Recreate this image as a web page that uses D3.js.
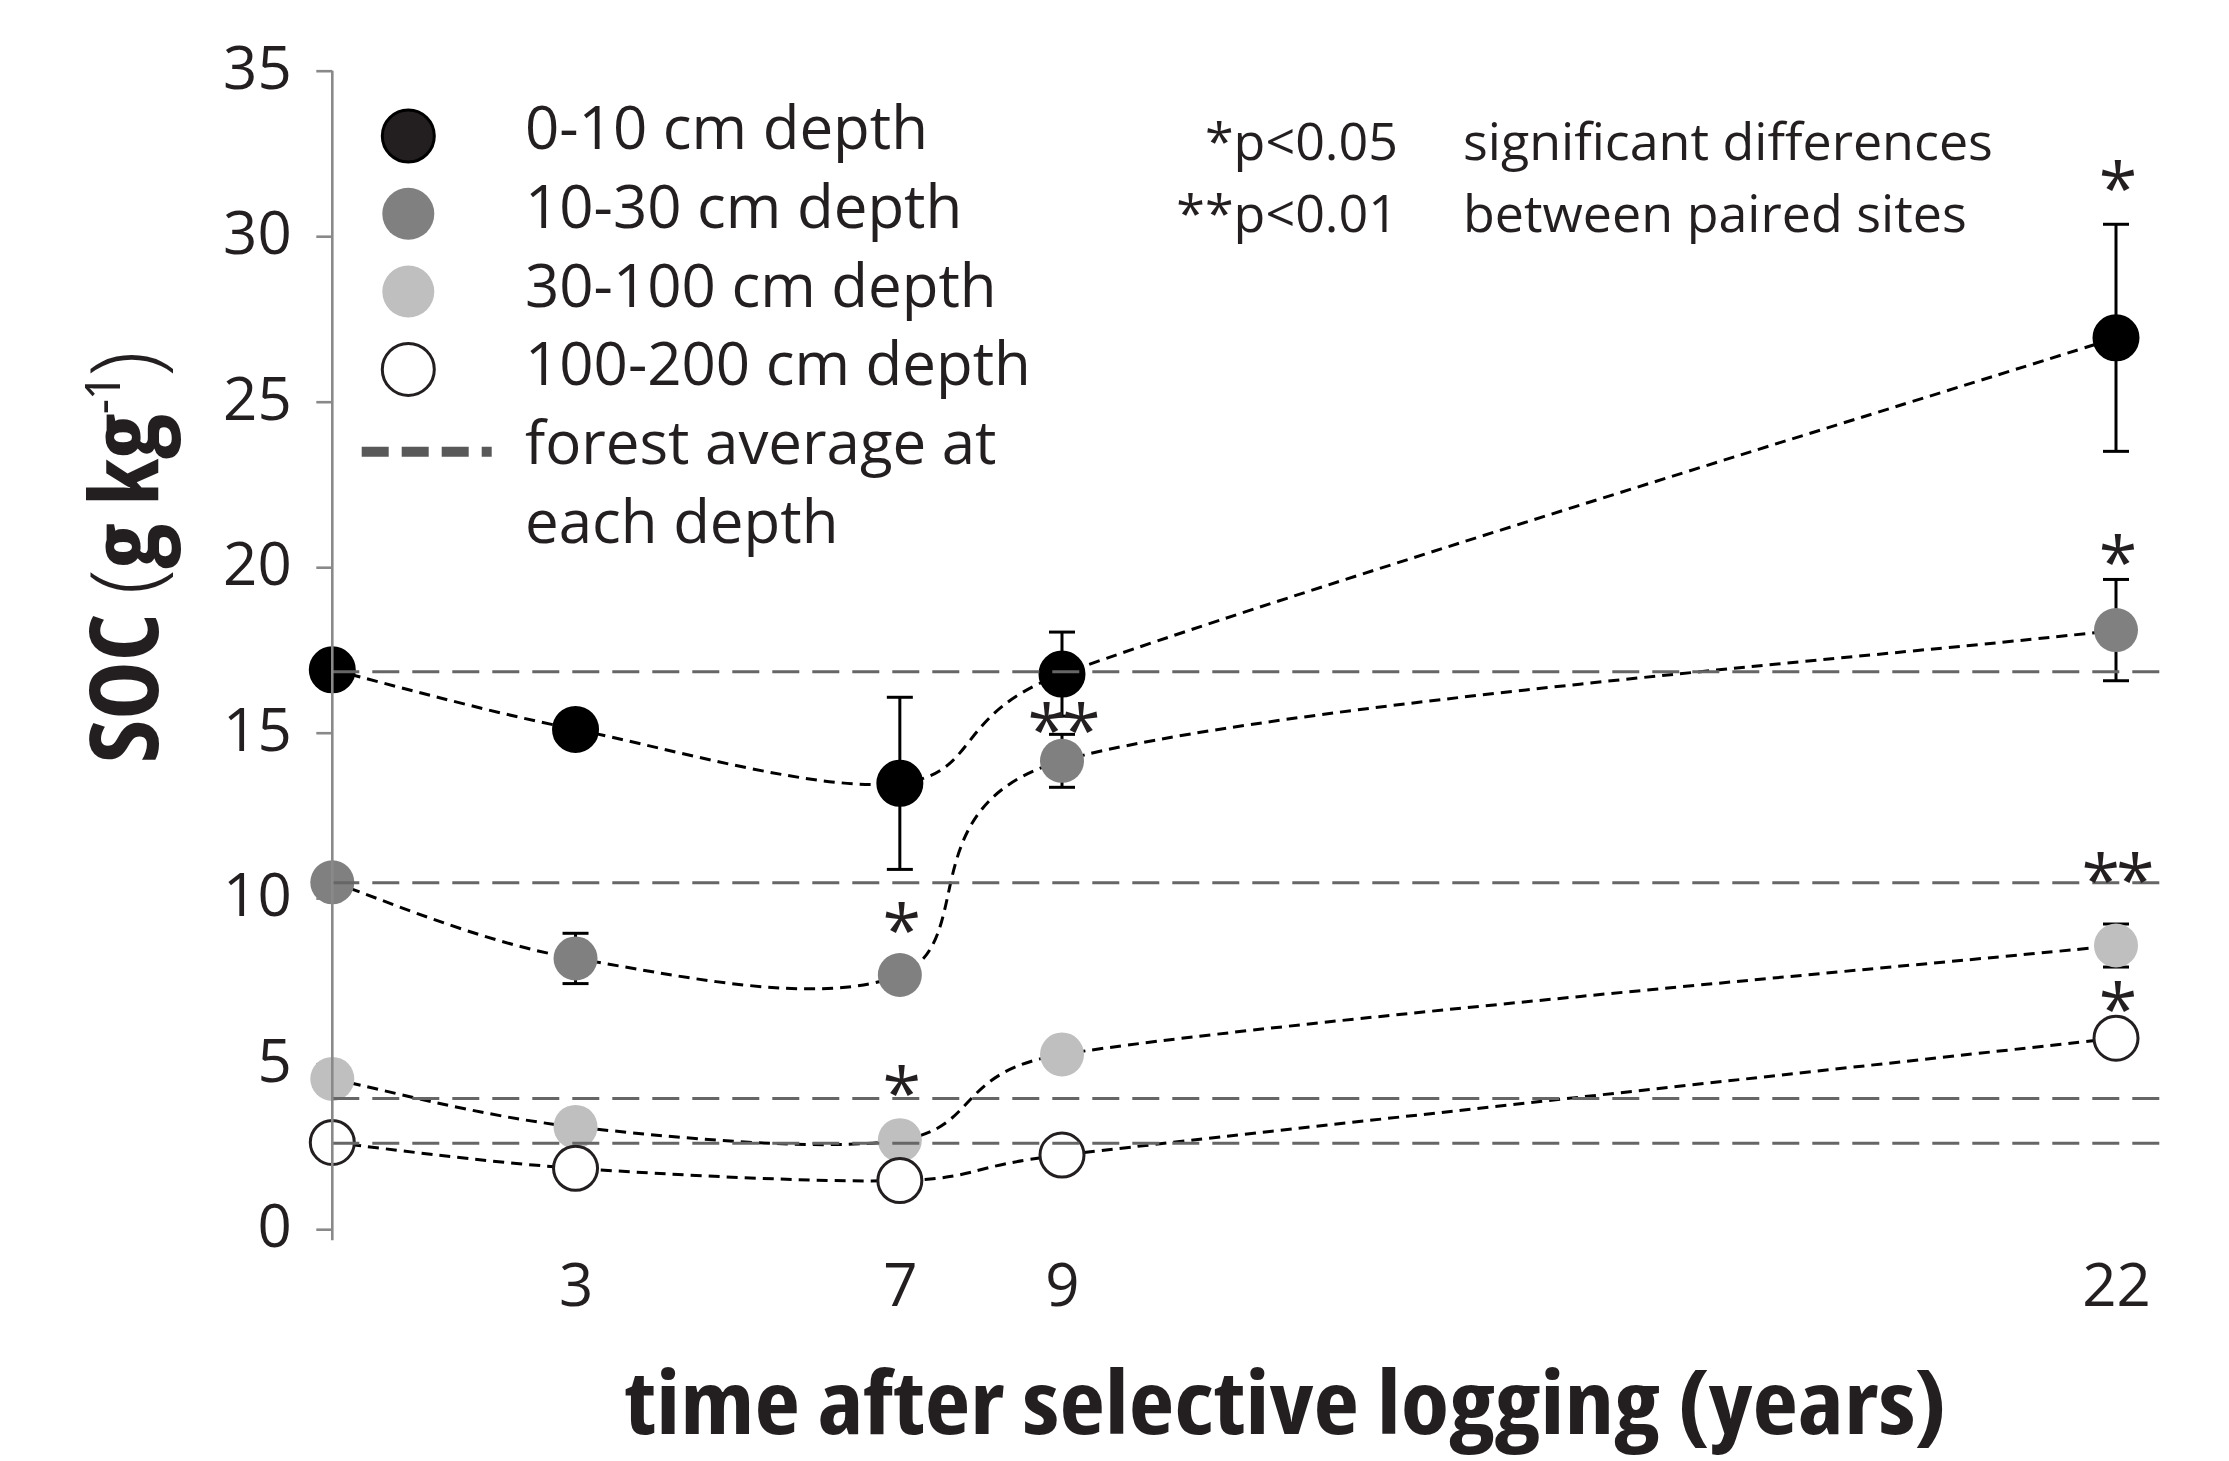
<!DOCTYPE html>
<html>
<head>
<meta charset="utf-8">
<script src="https://cdn.jsdelivr.net/npm/d3@7"></script>
<style>
  body { margin: 0; background: #fff; }
  text { font-family: "Open Sans", sans-serif; fill: #231f20; }
</style>
</head>
<body>
<div class="soc_chart"></div>
<script>
// data
const years = [0, 3, 7, 9, 22];
const depthNames = ["0-10 cm depth", "10-30 cm depth", "30-100 cm depth", "100-200 cm depth"];
const soc0_10 = [16.9, 15.1, 13.47, 16.77, 26.93];
const soc10_30 = [10.48, 8.18, 7.68, 14.15, 18.1];
const soc30_100 = [4.54, 3.09, 2.69, 5.28, 8.57];
const soc100_200 = [2.62, 1.84, 1.47, 2.24, 5.77];
const err0_10 = [0, 0, 2.6, 1.27, 3.43];
const err10_30 = [0, 0.76, 0, 0.8, 1.53];
const err30_100 = [0, 0, 0, 0, 0.65];
const err100_200 = [0, 0, 0, 0, 0];
const forestAvg = [16.84, 10.47, 3.95, 2.6];
const forestEnd = 22.68;
const yTicks = [0, 5, 10, 15, 20, 25, 30, 35];
const xTicks = [3, 7, 9, 22];
// significance marks: year, vertical position (g/kg), label
const sigYears = [22, 22, 22, 22, 7, 7, 9];
const sigPos = [31.9, 20.62, 11.0, 7.1, 9.5, 4.58, 15.53];
const sigLabels = ["*", "*", "**", "*", "*", "*", "**"];

const fills = ["#000", "#808080", "#bfbfbf", "#fff"];
const strokes = ["#000", "none", "none", "#231f20"];

const width = 2229, height = 1461;

let svg = d3
  .select(".soc_chart")
  .append("svg")
  .attr("width", width)
  .attr("height", height);

let x = d3.scaleLinear().domain([0, 22]).range([332.3, 2116]);
let y = d3.scaleLinear().domain([0, 35]).range([1229.2, 70.7]);

// AXIS
let yAxis = d3.axisLeft(y).tickValues(yTicks).tickSize(16).tickSizeOuter(0).tickPadding(24.6);
let yAxisGroup = svg.append("g").attr("class", "y-axis").attr("transform", "translate(" + x(0) + ",0)").call(yAxis);
yAxisGroup.select(".domain").remove();
yAxisGroup.selectAll("line").attr("stroke", "#898989").attr("stroke-width", 2.6);
yAxisGroup.selectAll("text")
  .attr("dy", 17.6)
  .attr("font-size", 60)
  .attr("font-weight", 400)
  .attr("font-family", "Open Sans")
  .attr("fill", "#231f20");

let xAxis = d3.axisBottom(x).tickValues(xTicks).tickSize(0).tickPadding(0);
let xAxisGroup = svg.append("g").attr("class", "x-axis").attr("transform", "translate(0,1306)").call(xAxis);
xAxisGroup.select(".domain").remove();
xAxisGroup.selectAll("text")
  .attr("y", 0)
  .attr("dy", 0)
  .attr("font-size", 60)
  .attr("font-weight", 400)
  .attr("font-family", "Open Sans")
  .attr("fill", "#231f20");

// ---- SERIES ----
const series = [soc0_10, soc10_30, soc30_100, soc100_200].map((vals, i) => ({
  name: depthNames[i],
  fill: fills[i],
  stroke: strokes[i],
  points: vals.map((v, j) => ({ year: years[j], soc: v, err: [err0_10, err10_30, err30_100, err100_200][i][j] }))
}));

// smoothed line like the spreadsheet one: catmull-rom handles, kept shorter than the segment
function smooth(points) {
  let p = points.map((d) => [x(d.year), y(d.soc)]);
  let path = d3.path();
  path.moveTo(p[0][0], p[0][1]);
  for (let i = 0; i < p.length - 1; i++) {
    let p0 = p[Math.max(i - 1, 0)], p1 = p[i], p2 = p[i + 1], p3 = p[Math.min(i + 2, p.length - 1)];
    let seg = Math.hypot(p2[0] - p1[0], p2[1] - p1[1]);
    let t1 = [(p2[0] - p0[0]) / 6, (p2[1] - p0[1]) / 6];
    let t2 = [(p3[0] - p1[0]) / 6, (p3[1] - p1[1]) / 6];
    let k1 = Math.min(1, (0.6 * seg) / Math.hypot(t1[0], t1[1]));
    let k2 = Math.min(1, (0.6 * seg) / Math.hypot(t2[0], t2[1]));
    path.bezierCurveTo(
      p1[0] + t1[0] * k1, p1[1] + t1[1] * k1,
      p2[0] - t2[0] * k2, p2[1] - t2[1] * k2,
      p2[0], p2[1]
    );
  }
  return path.toString();
}

svg.selectAll(".trend")
  .data(series)
  .enter()
  .append("path")
  .attr("class", "trend")
  .attr("d", (d) => smooth(d.points))
  .attr("fill", "none")
  .attr("stroke", "#000")
  .attr("stroke-width", 3)
  .attr("stroke-dasharray", "11,7");

// error bars
let errPts = series.flatMap((s) => s.points).filter((p) => p.err > 0);
let eb = svg.selectAll(".err").data(errPts).enter().append("g").attr("class", "err")
  .attr("stroke", "#000").attr("stroke-width", 3);
eb.append("line")
  .attr("x1", (d) => x(d.year)).attr("x2", (d) => x(d.year))
  .attr("y1", (d) => y(d.soc + d.err)).attr("y2", (d) => y(d.soc - d.err));
eb.append("line")
  .attr("x1", (d) => x(d.year) - 13).attr("x2", (d) => x(d.year) + 13)
  .attr("y1", (d) => y(d.soc + d.err)).attr("y2", (d) => y(d.soc + d.err));
eb.append("line")
  .attr("x1", (d) => x(d.year) - 13).attr("x2", (d) => x(d.year) + 13)
  .attr("y1", (d) => y(d.soc - d.err)).attr("y2", (d) => y(d.soc - d.err));

// points
series.forEach((s, k) => {
  svg.selectAll(".pt" + k)
    .data(s.points)
    .enter()
    .append("circle")
    .attr("class", "pt" + k)
    .attr("cx", (d) => x(d.year))
    .attr("cy", (d) => y(d.soc))
    .attr("r", 22)
    .attr("fill", s.fill)
    .attr("stroke", s.stroke)
    .attr("stroke-width", 3);
});

// forest averages (drawn over the points, like the original)
svg.selectAll(".forest")
  .data(forestAvg)
  .enter()
  .append("line")
  .attr("class", "forest")
  .attr("x1", x(0))
  .attr("x2", x(forestEnd))
  .attr("y1", (d) => y(d))
  .attr("y2", (d) => y(d))
  .attr("stroke", "#666")
  .attr("stroke-width", 3)
  .attr("stroke-dasharray", "27,13");

// axis line on top
svg.append("line")
  .attr("x1", x(0)).attr("x2", x(0))
  .attr("y1", y(35)).attr("y2", y(0) + 11)
  .attr("stroke", "#898989")
  .attr("stroke-width", 2.6);

// significance stars
svg.selectAll(".sig")
  .data(sigLabels)
  .enter()
  .append("text")
  .attr("class", "sig")
  .attr("x", (d, i) => x(sigYears[i]))
  .attr("y", (d, i) => y(sigPos[i]) + 40)
  .attr("text-anchor", "middle")
  .attr("font-size", 70)
  .attr("font-weight", 400)
  .attr("letter-spacing", -4)
  .text((d) => d);

// ---- LEGEND ----
let legend = svg.append("g").attr("class", "legend");
legend.selectAll("circle")
  .data(series)
  .enter()
  .append("circle")
  .attr("cx", 408.3)
  .attr("cy", (d, i) => 136 + i * 77.8)
  .attr("r", 26)
  .attr("fill", (d, i) => (i === 0 ? "#231f20" : d.fill))
  .attr("stroke", (d, i) => (i === 0 ? "#000" : d.stroke))
  .attr("stroke-width", 3);

let legendLabels = depthNames.concat(["forest average at", "each depth"]);
legend.selectAll("text")
  .data(legendLabels)
  .enter()
  .append("text")
  .attr("x", 525)
  .attr("y", (d, i) => 149 + i * 78.8)
  .attr("font-size", 60)
  .attr("font-weight", 400)
  .text((d) => d);

legend.append("line")
  .attr("x1", 361.7).attr("x2", 491.7)
  .attr("y1", 451.7).attr("y2", 451.7)
  .attr("stroke", "#595959")
  .attr("stroke-width", 10)
  .attr("stroke-dasharray", "27,13");

// p-value note
const noteLeft = ["*p<0.05", "**p<0.01"];
const noteRight = ["significant differences", "between paired sites"];
svg.selectAll(".note-l").data(noteLeft).enter().append("text")
  .attr("x", 1398).attr("y", (d, i) => 160.4 + i * 71.6)
  .attr("text-anchor", "end").attr("font-size", 52).attr("font-weight", 400)
  .text((d) => d);
svg.selectAll(".note-r").data(noteRight).enter().append("text")
  .attr("x", 1463).attr("y", (d, i) => 160.4 + i * 71.6)
  .attr("font-size", 52).attr("font-weight", 400)
  .text((d) => d);

// ---- TITLES ----
svg.append("text")
  .attr("x", 1285.5)
  .attr("y", 1434)
  .attr("text-anchor", "middle")
  .attr("font-size", 88)
  .attr("font-weight", 700)
  .attr("textLength", 1322)
  .attr("lengthAdjust", "spacingAndGlyphs")
  .style("font-stretch", "condensed")
  .text("time after selective logging (years)");

let yTitle = svg.append("text")
  .attr("transform", "translate(158,556.5) rotate(-90)")
  .attr("text-anchor", "middle")
  .attr("font-size", 94)
  .attr("textLength", 413)
  .attr("lengthAdjust", "spacingAndGlyphs")
  .style("font-stretch", "condensed");
yTitle.append("tspan").attr("font-weight", 700).text("SOC ");
yTitle.append("tspan").attr("font-weight", 300).text("(");
yTitle.append("tspan").attr("font-weight", 700).text("g kg");
yTitle.append("tspan").attr("font-weight", 400).attr("font-size", 50).attr("dy", -38).text("-1");
yTitle.append("tspan").attr("font-weight", 300).attr("dy", 38).text(")");
</script>
</body>
</html>
